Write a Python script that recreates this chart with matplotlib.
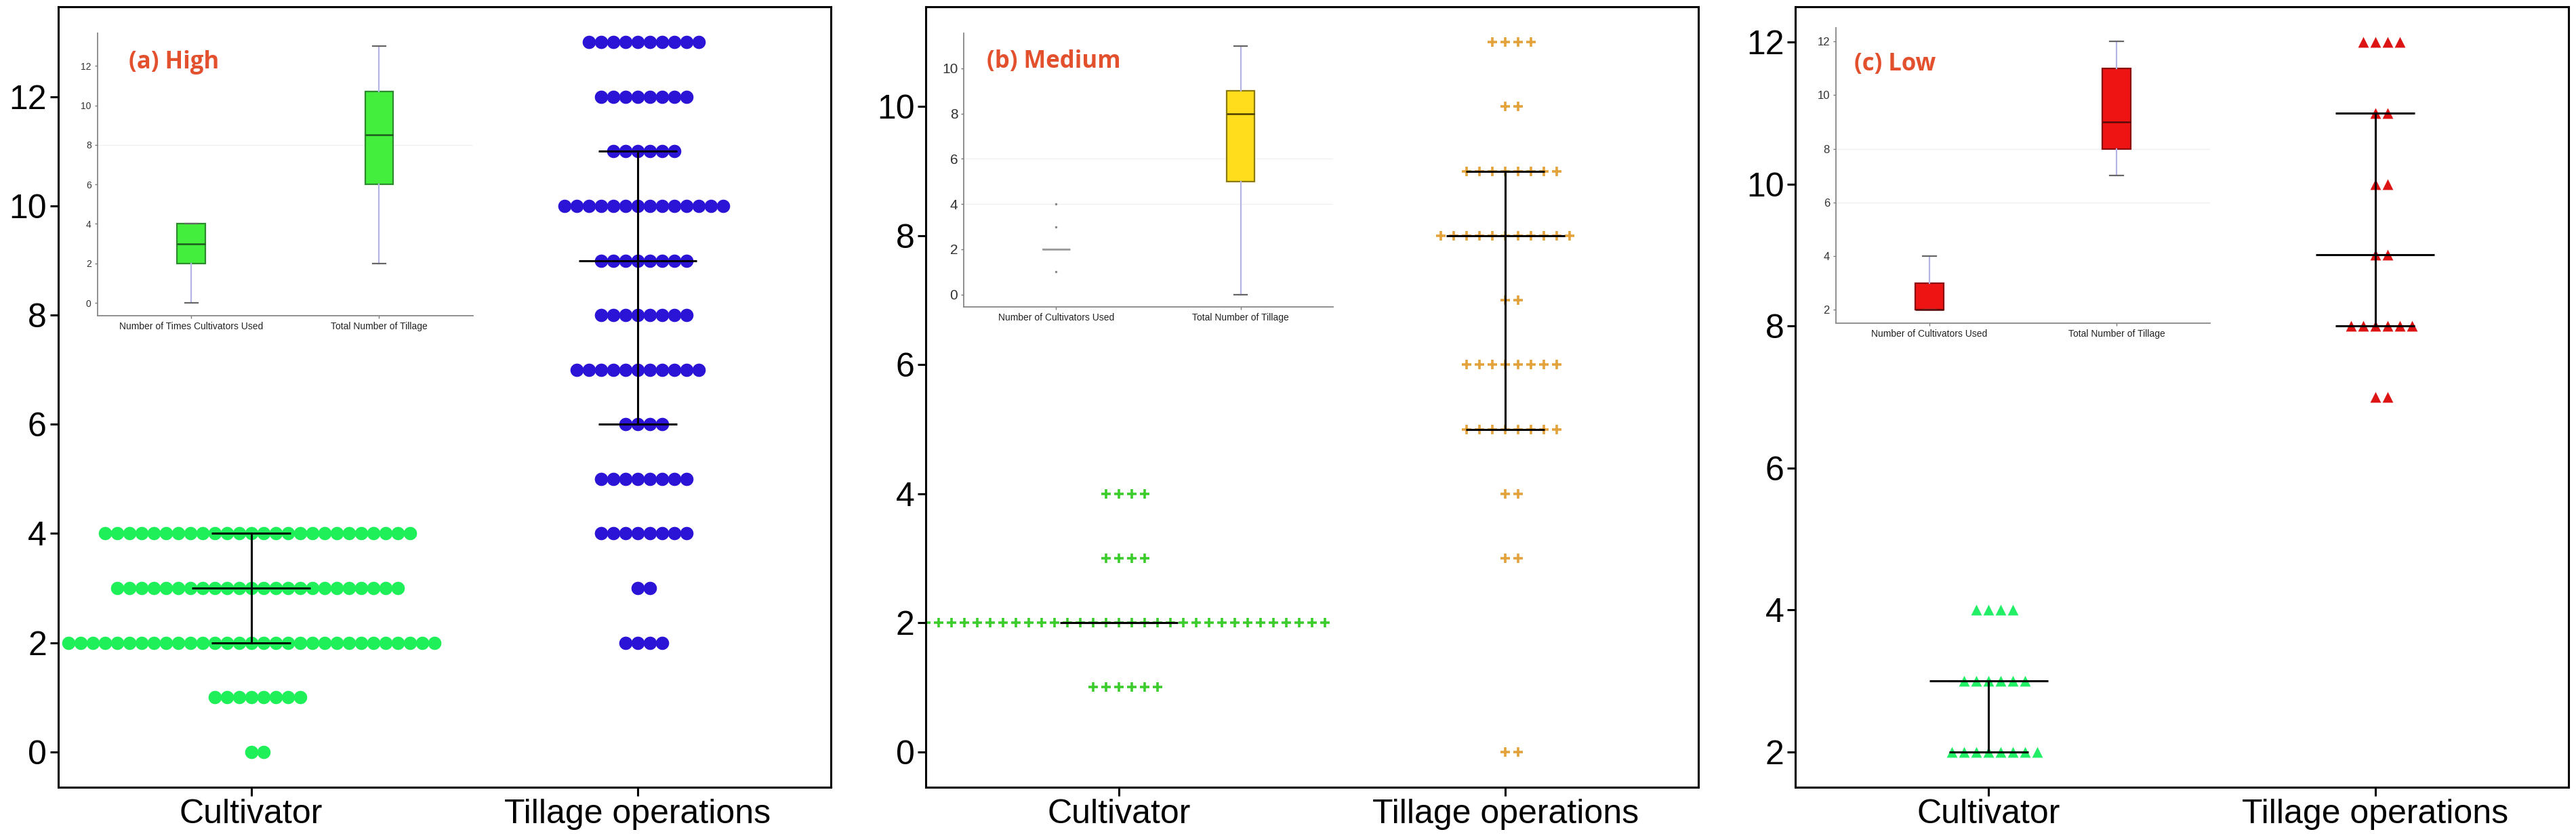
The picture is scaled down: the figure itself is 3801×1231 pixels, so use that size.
import numpy as np
import matplotlib.pyplot as plt

plt.rcParams['font.family'] = ['Liberation Sans', 'DejaVu Sans']

categories = ['Cultivator', 'Tillage operations']
panel_labels = ['(a) High', '(b) Medium', '(c) Low']

# main dot plots: value levels and number of farms at each level
high_cult_vals = [0, 1, 2, 3, 4]
high_cult_counts = [2, 8, 31, 24, 26]
high_till_vals = [2, 3, 4, 5, 6, 7, 8, 9, 10, 11, 12, 13]
high_till_counts = [4, 2, 8, 8, 4, 11, 8, 8, 14, 6, 8, 10]

med_cult_vals = [1, 2, 3, 4]
med_cult_counts = [6, 33, 4, 4]
med_till_vals = [0, 3, 4, 5, 6, 7, 8, 9, 10, 11]
med_till_counts = [2, 2, 2, 8, 8, 2, 11, 8, 2, 4]

low_cult_vals = [2, 3, 4]
low_cult_counts = [8, 6, 4]
low_till_vals = [7, 8, 9, 10, 11, 12]
low_till_counts = [2, 6, 2, 2, 2, 4]

# median, q1, q3 drawn over the dots
high_cult_stats = [3, 2, 4]
high_till_stats = [9, 6, 11]
med_cult_stats = [2, 2, 2]
med_till_stats = [8, 5, 9]
low_cult_stats = [3, 2, 3]
low_till_stats = [9, 8, 11]

# inset boxplots: whisker low, q1, median, q3, whisker high
high_box_cult = [0, 2, 3, 4, 4]
high_box_till = [2, 6, 8.5, 10.7, 13]
med_box_cult = [2, 2, 2, 2, 2]
med_box_cult_out = [1, 3, 4]
med_box_till = [0, 5, 8, 9, 11]
low_box_cult = [2, 2, 2, 3, 4]
low_box_till = [7, 8, 9, 11, 12]

inset_xlabels = [['Number of Times Cultivators Used', 'Total Number of Tillage'],
                 ['Number of Cultivators Used', 'Total Number of Tillage'],
                 ['Number of Cultivators Used', 'Total Number of Tillage']]

main_yticks = [np.arange(0, 13, 2), np.arange(0, 11, 2), np.arange(2, 13, 2)]
main_ylims = [(-0.65, 13.65), (-0.55, 11.55), (1.5, 12.5)]
inset_yticks = [np.arange(0, 13, 2), np.arange(0, 11, 2), np.arange(2, 13, 2)]
inset_ylims = [(-0.65, 13.65), (-0.55, 11.55), (1.5, 12.5)]
inset_grid = [[8], [4, 6], [6, 8]]

fig = plt.figure(figsize=(38.01, 12.31), dpi=100)

main_left = [0.0225, 0.3594, 0.6970]
main_w, main_b, main_h = 0.300, 0.056, 0.936
inset_pos = [[0.0378, 0.6214, 0.1458, 0.3387],
             [0.3742, 0.6320, 0.1432, 0.3280],
             [0.7127, 0.6125, 0.1452, 0.3540]]
label_pos = [(0.084, 0.897), (0.062, 0.897), (0.049, 0.877)]
inset_tick_fs = [10, 15, 12]

dot_vals = [(high_cult_vals, high_till_vals), (med_cult_vals, med_till_vals),
            (low_cult_vals, low_till_vals)]
dot_counts = [(high_cult_counts, high_till_counts), (med_cult_counts, med_till_counts),
              (low_cult_counts, low_till_counts)]
bar_stats = [(high_cult_stats, high_till_stats), (med_cult_stats, med_till_stats),
             (low_cult_stats, low_till_stats)]
box_stats = [(high_box_cult, high_box_till), (med_box_cult, med_box_till),
             (low_box_cult, low_box_till)]

markers = ['o', '+', '^']
marker_sizes = [200, 110, 130]
marker_colors = [('#1ff05a', '#2c14d6'), ('#3ccc2c', '#e3a23c'), ('#22ee66', '#dd1414')]
mark_step_px = [18, 19, 18]
box_face = ['#44ee3c', '#ffdd1c', '#ee1414']
box_edge = ['#2e8a2e', '#8a7a10', '#8a0e0e']
box_med = ['#1e5a1e', '#4a3c00', '#5a0a0a']


def swarm(ax, x0, vals, counts, step, **kw):
    xs, ys = [], []
    for v, n in zip(vals, counts):
        k = np.arange(-((n - 1) // 2), n // 2 + 1)
        xs.extend(x0 + k * step)
        ys.extend([v] * n)
    ax.scatter(xs, ys, **kw)


for i in range(3):
    ax = fig.add_axes([main_left[i], main_b, main_w, main_h])
    ax.set_xlim(-0.5, 1.5)
    ax.set_ylim(*main_ylims[i])
    step = mark_step_px[i] / (main_w * 3801 / 2.0)
    for j in range(2):
        kw = dict(marker=markers[i], s=marker_sizes[i], color=marker_colors[i][j], zorder=2)
        if markers[i] == '+':
            kw['linewidths'] = 2.6
        else:
            kw['linewidths'] = 0
        swarm(ax, j, dot_vals[i][j], dot_counts[i][j], step, **kw)
        med, q1, q3 = bar_stats[i][j]
        ax.plot([j, j], [q1, q3], color='black', lw=2.2, zorder=3)
        ax.hlines(med, j - 0.153, j + 0.153, color='black', lw=2.2, zorder=3)
        ax.hlines([q1, q3], j - 0.102, j + 0.102, color='black', lw=2.2, zorder=3)
    ax.set_xticks([0, 1])
    ax.set_xticklabels(categories)
    ax.set_yticks(main_yticks[i])
    ax.tick_params(labelsize=36, width=2.2, length=9, pad=3, direction='out')
    for sp in ax.spines.values():
        sp.set_linewidth(2.2)

    # inset boxplot
    ins = fig.add_axes(inset_pos[i])
    st = []
    for j, b in enumerate(box_stats[i]):
        d = dict(whislo=b[0], q1=b[1], med=b[2], q3=b[3], whishi=b[4], fliers=[])
        st.append(d)
    if i == 1:
        st[0]['fliers'] = med_box_cult_out
    bp = ins.bxp(st, positions=[1, 2], widths=0.15, patch_artist=True, capwidths=0.07,
                 boxprops=dict(facecolor=box_face[i], edgecolor=box_edge[i], lw=1.6),
                 medianprops=dict(color=box_med[i], lw=1.8),
                 whiskerprops=dict(color='#b4b4e4', lw=1.6),
                 capprops=dict(color='#666666', lw=1.6),
                 flierprops=dict(marker='.', markersize=3, markerfacecolor='#888888',
                                 markeredgecolor='#888888'))
    if i == 1:
        bp['boxes'][0].set_facecolor('#ffffff')
        bp['boxes'][0].set_edgecolor('#999999')
        bp['medians'][0].set_color('#999999')
        for c in bp['caps'][:2]:
            c.set_visible(False)
    for g in inset_grid[i]:
        ins.axhline(g, color='#f0f0f0', lw=1, zorder=0)
    ins.set_xlim(0.5, 2.5)
    ins.set_ylim(*inset_ylims[i])
    ins.set_yticks(inset_yticks[i])
    ins.set_xticks([1, 2])
    ins.set_xticklabels(inset_xlabels[i], fontsize=10, color='#222222')
    ins.tick_params(axis='y', labelsize=inset_tick_fs[i], labelcolor='#333333')
    ins.tick_params(color='#777777', length=3, width=1)
    ins.spines['top'].set_visible(False)
    ins.spines['right'].set_visible(False)
    for s in ['left', 'bottom']:
        ins.spines[s].set_color('#888888')
        ins.spines[s].set_linewidth(1.3)
    ins.text(label_pos[i][0], label_pos[i][1], panel_labels[i], transform=ins.transAxes,
             family=['Open Sans', 'DejaVu Sans'], fontweight='bold', fontsize=25,
             color='#e2502e', va='center', ha='left')

fig.savefig('out.png', dpi=100)
